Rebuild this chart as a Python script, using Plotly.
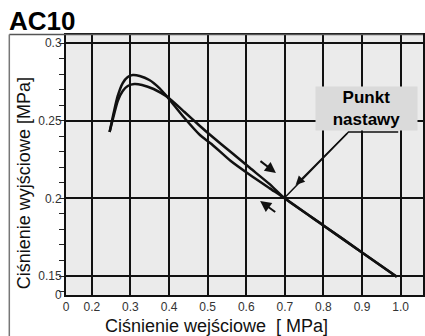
import plotly.graph_objects as go

# Data
x_up = [0.246, 0.257, 0.267, 0.280, 0.293, 0.306, 0.324, 0.349, 0.375, 0.396,
        0.44, 0.48, 0.51, 0.56, 0.61, 0.66, 0.70, 0.80, 0.90, 0.99]
y_up = [0.2427, 0.2556, 0.2659, 0.2742, 0.2781, 0.2794, 0.2788, 0.2762, 0.2710, 0.2652,
        0.2517, 0.2408, 0.2350, 0.2240, 0.2150, 0.2066, 0.2000, 0.1826, 0.1652, 0.1495]
x_dn = [0.246, 0.257, 0.267, 0.280, 0.293, 0.31, 0.33, 0.36, 0.396,
        0.44, 0.48, 0.51, 0.56, 0.61, 0.66, 0.70, 0.80, 0.90, 0.99]
y_dn = [0.2427, 0.2536, 0.2627, 0.2691, 0.2723, 0.2736, 0.2730, 0.2704, 0.2652,
        0.2556, 0.2466, 0.2401, 0.2298, 0.2195, 0.2093, 0.2000, 0.1826, 0.1652, 0.1495]

x_tickvals = [0.133, 0.2, 0.3, 0.4, 0.5, 0.6, 0.7, 0.8, 0.9, 1.0]
x_ticktext = ["0", "0.2", "0.3", "0.4", "0.5", "0.6", "0.7", "0.8", "0.9", "1.0"]
y_tickvals = [0.1378, 0.15, 0.2, 0.25, 0.3]
y_ticktext = ["0", "0.15", "0.2", "0.25", "0.3"]

title = "AC10"
x_title = "Ciśnienie wejściowe  [ MPa]"
y_title = "Ciśnienie wyjściowe [MPa]"
label = "Punkt<br>nastawy"

FONT = "Liberation Sans, Arial, sans-serif"
ink = "#111111"

fig = go.Figure()
for xs, ys in [(x_up, y_up), (x_dn, y_dn)]:
    fig.add_trace(go.Scatter(x=xs, y=ys, mode="lines",
                             line=dict(color=ink, width=2.5, shape="spline", smoothing=0.6),
                             showlegend=False, hoverinfo="skip"))

fig.update_layout(
    width=425, height=336,
    margin=dict(l=66, r=0, t=35, b=41),
    paper_bgcolor="white", plot_bgcolor="#ebebeb",
    font=dict(family=FONT, color="#333333", size=12),
    title=dict(text="<b>" + title + "</b>", x=9 / 425, xref="container", xanchor="left",
               y=0.965, yref="container", yanchor="top",
               font=dict(size=26, color="black", family=FONT)),
    xaxis=dict(range=[0.133, 1.058], tickmode="array", tickvals=x_tickvals, ticktext=x_ticktext,
               showgrid=True, gridcolor=ink, gridwidth=1.5, zeroline=False,
               showline=True, linecolor=ink, linewidth=2, mirror=True, ticks="",
               tickfont=dict(size=12, color="#333333")),
    yaxis=dict(range=[0.1378, 0.30515], tickmode="array", tickvals=y_tickvals, ticktext=y_ticktext,
               showgrid=True, gridcolor=ink, gridwidth=1.5, zeroline=False,
               showline=True, linecolor=ink, linewidth=2, mirror=True, ticks="",
               minor=dict(ticks="outside", ticklen=5, dtick=0.01, tick0=0, tickcolor="#222222",
                          showgrid=False),
               tickfont=dict(size=12, color="#333333")),
)

# frame lines around the chart
fig.add_shape(type="line", xref="paper", yref="paper", x0=-0.1588, x1=1, y0=1.002, y1=1.002,
              line=dict(color="#555555", width=1.5))
fig.add_shape(type="line", xref="paper", yref="paper", x0=-0.1588, x1=-0.1588, y0=1.002, y1=-0.16,
              line=dict(color="#777777", width=1.5))

# axis titles
fig.add_annotation(text=y_title, xref="paper", yref="paper", x=-0.117, y=0.431,
                   textangle=-90, showarrow=False, xanchor="center", yanchor="middle",
                   font=dict(size=18, color="#111111", family=FONT))
fig.add_annotation(text=x_title, xref="paper", yref="paper", x=0.4206, y=-0.119,
                   showarrow=False, xanchor="center", yanchor="middle",
                   font=dict(size=18, color="#111111", family=FONT))

# label box
fig.add_annotation(text="<b>" + label + "</b>", xref="paper", yref="paper", x=0.8426, y=0.7173,
                   showarrow=False, xanchor="center", yanchor="middle",
                   bgcolor="#dadada", borderpad=0, width=101, height=43,
                   font=dict(size=17, color="black", family=FONT))

# leader line
fig.add_shape(type="path", xref="x", yref="y",
              path="M 0.9938 0.2427 L 0.865 0.2427 L 0.702 0.2010",
              line=dict(color=ink, width=1.5))
fig.add_annotation(x=0.728, y=0.2086, ax=0.865, ay=0.2427, xref="x", yref="y",
                   axref="x", ayref="y", text="", showarrow=True,
                   arrowhead=2, arrowsize=1.2, arrowwidth=1.5, arrowcolor=ink)

# small direction arrows
fig.add_annotation(x=0.677, y=0.2163, ax=0.633, ay=0.2247, xref="x", yref="y",
                   axref="x", ayref="y", text="", showarrow=True,
                   arrowhead=2, arrowsize=1.1, arrowwidth=2, arrowcolor=ink)
fig.add_annotation(x=0.636, y=0.1983, ax=0.679, ay=0.1905, xref="x", yref="y",
                   axref="x", ayref="y", text="", showarrow=True,
                   arrowhead=2, arrowsize=1.1, arrowwidth=2, arrowcolor=ink)

fig.write_html("out.html")
